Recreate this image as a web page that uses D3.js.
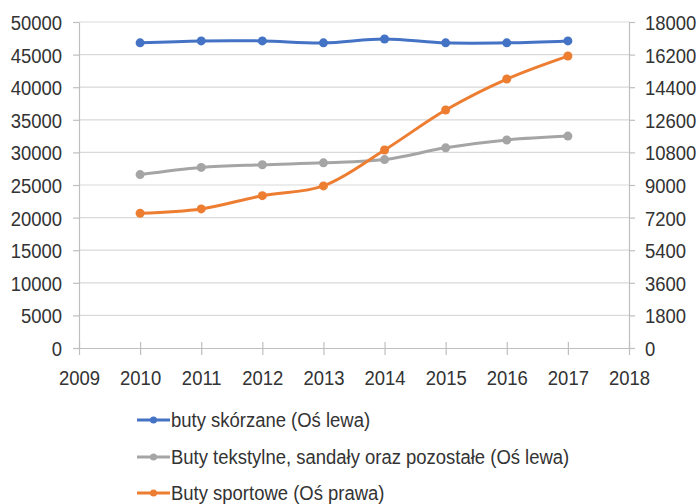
<!DOCTYPE html>
<html>
<head>
<meta charset="utf-8">
<script src="https://cdn.jsdelivr.net/npm/d3@7"></script>
<style>
  body { margin: 0; background: #fff; }
  svg text { font-family: "Liberation Sans", Arial, sans-serif; fill: #333; }
</style>
</head>
<body>
<div class="chart"></div>
<script>
//==================== DATA ===================

const years = [2010, 2011, 2012, 2013, 2014, 2015, 2016, 2017]
const yearTicks = [2009, 2010, 2011, 2012, 2013, 2014, 2015, 2016, 2017, 2018]
const leftTicks = [0, 5000, 10000, 15000, 20000, 25000, 30000, 35000, 40000, 45000, 50000]
const rightTicks = [0, 1800, 3600, 5400, 7200, 9000, 10800, 12600, 14400, 16200, 18000]

const skorzane = [46800, 47100, 47100, 46800, 47400, 46800, 46800, 47100]
const tekstylne = [26600, 27700, 28100, 28400, 28900, 30700, 31900, 32500]
const sportowe = [7440, 7680, 8410, 8950, 10930, 13140, 14850, 16120]

const seriesNames = [
  'buty skórzane (Oś lewa)',
  'Buty tekstylne, sandały oraz pozostałe (Oś lewa)',
  'Buty sportowe (Oś prawa)'
]

//==================== STRUCTURE ===================

const width = 700
const height = 504
const sx = 0.88   // text in the picture is a bit narrow

const x = d3.scaleLinear().domain([2009, 2018]).range([79, 629])
const yLeft = d3.scaleLinear().domain([0, 50000]).range([348, 22])
const yRight = d3.scaleLinear().domain([0, 18000]).range([348, 22])

const series = [
  { name: seriesNames[0], values: skorzane, scale: yLeft, color: '#4472C4' },
  { name: seriesNames[1], values: tekstylne, scale: yLeft, color: '#A5A5A5' },
  { name: seriesNames[2], values: sportowe, scale: yRight, color: '#ED7D31' }
]

const svg = d3.select('.chart')
  .append('svg')
  .attr('width', width)
  .attr('height', height)

// gridlines
svg.append('g')
  .selectAll('line')
  .data(leftTicks.slice(1))
  .enter()
  .append('line')
  .attr('x1', x(2009))
  .attr('x2', x(2018))
  .attr('y1', d => yLeft(d))
  .attr('y2', d => yLeft(d))
  .attr('stroke', '#d9d9d9')
  .attr('stroke-width', 1.2)

const styleAxis = (g) => {
  g.select('.domain').attr('stroke', '#bfbfbf').attr('stroke-width', 1.2)
  g.selectAll('.tick line').attr('stroke', '#bfbfbf').attr('stroke-width', 1.2)
  g.selectAll('text').style('font-size', '21px').attr('fill', '#333')
}

// left axis
const gLeft = svg.append('g')
  .attr('transform', `translate(${x(2009)},0)`)
  .call(d3.axisLeft(yLeft).tickValues(leftTicks).tickSize(6).tickSizeOuter(0).tickFormat(d3.format('d')))
styleAxis(gLeft)
gLeft.selectAll('.tick text')
  .attr('x', 0).attr('dy', null).attr('dominant-baseline', 'central')
  .attr('transform', `translate(-17,0) scale(${sx},1)`)

// right axis
const gRight = svg.append('g')
  .attr('transform', `translate(${x(2018)},0)`)
  .call(d3.axisRight(yRight).tickValues(rightTicks).tickSize(6).tickSizeOuter(0).tickFormat(d3.format('d')))
styleAxis(gRight)
gRight.selectAll('.tick text')
  .attr('x', 0).attr('dy', null).attr('dominant-baseline', 'central')
  .attr('transform', `translate(16,0) scale(${sx},1)`)

// bottom axis
const gBottom = svg.append('g')
  .attr('transform', `translate(0,${yLeft(0)})`)
  .call(d3.axisBottom(x).tickValues(yearTicks).tickSize(6).tickSizeOuter(0).tickFormat(d3.format('d')))
styleAxis(gBottom)
gBottom.selectAll('.tick line').attr('y1', -6).attr('y2', 7)
gBottom.selectAll('.tick text')
  .attr('y', 0).attr('dy', null)
  .attr('transform', `translate(0,37) scale(${sx},1)`)

//==================== LINES ===================

const lineGroup = svg.append('g')

series.forEach(s => {
  const line = d3.line()
    .x((d, i) => x(years[i]))
    .y(d => s.scale(d))
    .curve(d3.curveCatmullRom.alpha(0.5))

  lineGroup.append('path')
    .datum(s.values)
    .attr('d', line)
    .attr('fill', 'none')
    .attr('stroke', s.color)
    .attr('stroke-width', 3)
    .attr('stroke-linecap', 'round')

  lineGroup.append('g')
    .selectAll('circle')
    .data(s.values)
    .enter()
    .append('circle')
    .attr('cx', (d, i) => x(years[i]))
    .attr('cy', d => s.scale(d))
    .attr('r', 4.5)
    .attr('fill', s.color)
})

//==================== LEGEND ===================

const legend = svg.append('g')
  .selectAll('g')
  .data(series)
  .enter()
  .append('g')
  .attr('transform', (d, i) => `translate(137,${[420, 457, 493][i]})`)

legend.append('line')
  .attr('x1', 0).attr('x2', 33)
  .attr('stroke', d => d.color)
  .attr('stroke-width', 3)

legend.append('circle')
  .attr('cx', 16.5).attr('r', 3.5)
  .attr('fill', d => d.color)

legend.append('text')
  .attr('dominant-baseline', 'central')
  .attr('transform', `translate(34,0) scale(${sx},1)`)
  .style('font-size', '21px')
  .text(d => d.name)
</script>
</body>
</html>
